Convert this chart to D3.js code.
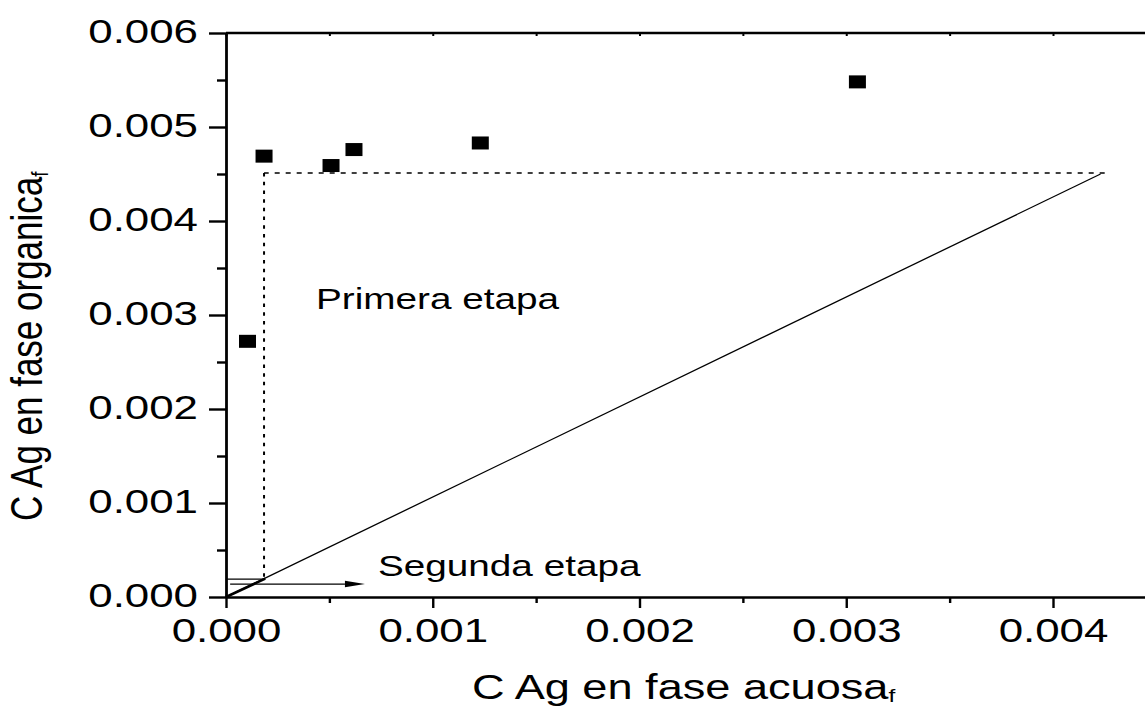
<!DOCTYPE html>
<html><head><meta charset="utf-8">
<script src="https://cdn.jsdelivr.net/npm/d3@7"></script>
<style>body{margin:0;background:#fff}svg{display:block}</style>
</head><body>
<svg id="c" width="1145" height="708"></svg>
<script>
// ---- data ----
const aqueous = [0.000104, 0.000184, 0.000508, 0.000619, 0.00123, 0.003054];
const organic = [0.00272, 0.00469, 0.00459, 0.00476, 0.00483, 0.00548];
const operatingX = [0, 0.00423];
const operatingY = [0, 0.0045];
const stage1X = [0.00425, 0.000184, 0.000184];
const stage1Y = [0.00451, 0.00451, 0.000195];
const stage2X = [0.000184, 0];
const stage2Y = [0.00019, 0.00019];
const stage2DiagX = [0, 0.00019];
const stage2DiagY = [0, 0.000195];
const arrowX = [0.00002, 0.000672];
const arrowY = [0.000138, 0.000138];
const xMajor = [0, 0.001, 0.002, 0.003, 0.004];
const xMinor = [0.0005, 0.0015, 0.0025, 0.0035, 0.0045];
const yMajor = [0, 0.001, 0.002, 0.003, 0.004, 0.005, 0.006];
const yMinor = [0.0005, 0.0015, 0.0025, 0.0035, 0.0045, 0.0055];
const xTitle = "C Ag en fase acuosa";
const yTitle = "C Ag en fase organica";
const subscript = "f";
const label1 = "Primera etapa";
const label2 = "Segunda etapa";

// ---- layout ----
const SX = 1.29;
const FONT = "'Liberation Sans', Arial, sans-serif";
const svg = d3.select("#c");
svg.append("rect").attr("width",1145).attr("height",708).attr("fill","#fff");

const x = d3.scaleLinear().domain([0, 0.0045]).range([226, 226 + 0.0045 * 206750]);
const y = d3.scaleLinear().domain([0, 0.006]).range([597, 33]);
const fmt = d3.format(".3f");
const zip = (a, b) => a.map((v, i) => [v, b[i]]);
const line = d3.line().x(d => x(d[0])).y(d => y(d[1]));

// top frame line with faint ticks
svg.append("line").attr("x1", 226).attr("x2", 1145).attr("y1", y(0.006)).attr("y2", y(0.006))
  .attr("stroke", "#000").attr("stroke-width", 2.6);
const topT = svg.append("g").attr("transform", `translate(0,${y(0.006)})`)
  .call(d3.axisTop(x).tickValues(xMajor.concat(xMinor)).tickSize(-3).tickFormat(""));
topT.select(".domain").remove();
topT.selectAll("line").attr("stroke", "#ccc").attr("stroke-width", 2);

// bottom axis
const xAx = svg.append("g").attr("transform", `translate(0,${y(0)})`)
  .call(d3.axisBottom(x).tickValues(xMajor).tickSize(11).tickSizeOuter(0).tickFormat(fmt));
xAx.select(".domain").attr("stroke-width", 2.6);
xAx.selectAll(".tick line").attr("stroke-width", 2.4);
xAx.selectAll("text").attr("y", 45).attr("dy", null)
  .attr("font-size", 34).attr("font-family", FONT).attr("fill", "#000")
  .attr("transform", `scale(${SX},1)`);
const xMin = svg.append("g").attr("transform", `translate(0,${y(0)})`)
  .call(d3.axisBottom(x).tickValues(xMinor).tickSize(6).tickFormat(""));
xMin.select(".domain").remove();
xMin.selectAll("line").attr("stroke-width", 2.4);

// left axis
const yAx = svg.append("g").attr("transform", `translate(${x(0)},0)`)
  .call(d3.axisLeft(y).tickValues(yMajor).tickSize(17).tickSizeOuter(0).tickFormat(fmt));
yAx.select(".domain").attr("stroke-width", 2.8);
yAx.selectAll(".tick line").attr("stroke-width", 2.4);
yAx.selectAll("text").attr("x", -28 / SX).attr("y", 9).attr("dy", null)
  .attr("font-size", 34).attr("font-family", FONT).attr("fill", "#000")
  .attr("transform", `scale(${SX},1)`);
const yMin = svg.append("g").attr("transform", `translate(${x(0)},0)`)
  .call(d3.axisLeft(y).tickValues(yMinor).tickSize(9).tickFormat(""));
yMin.select(".domain").remove();
yMin.selectAll("line").attr("stroke-width", 2.4);
svg.selectAll(".tick line, .domain").attr("stroke", "#000");

// lines
svg.append("path").attr("d", line(zip(operatingX, operatingY)))
  .attr("fill", "none").attr("stroke", "#000").attr("stroke-width", 1.3);
svg.append("path").attr("d", line(zip(stage1X.slice(0, 2), stage1Y.slice(0, 2))))
  .attr("fill", "none").attr("stroke", "#000").attr("stroke-width", 1.6).attr("stroke-dasharray", "5,6");
svg.append("path").attr("d", line(zip(stage1X.slice(1), stage1Y.slice(1))))
  .attr("fill", "none").attr("stroke", "#000").attr("stroke-width", 2).attr("stroke-dasharray", "3.5,5.2");
svg.append("path").attr("d", line(zip(stage2X, stage2Y)))
  .attr("fill", "none").attr("stroke", "#000").attr("stroke-width", 1.4);
svg.append("path").attr("d", line(zip(stage2DiagX, stage2DiagY)))
  .attr("fill", "none").attr("stroke", "#000").attr("stroke-width", 2.6);

// arrow
const a = zip(arrowX, arrowY);
const ax1 = x(a[1][0]), ay1 = y(a[1][1]);
svg.append("path").attr("d", line([a[0], [arrowX[1] - 20 / 206750, arrowY[1]]]))
  .attr("fill", "none").attr("stroke", "#000").attr("stroke-width", 1.2);
svg.append("path").attr("d", `M${ax1},${ay1} L${ax1 - 20},${ay1 - 3.2} L${ax1 - 20},${ay1 + 3.2} Z`)
  .attr("fill", "#000");

// markers
svg.append("g").selectAll("rect").data(zip(aqueous, organic)).join("rect")
  .attr("x", d => x(d[0]) - 8.5).attr("y", d => y(d[1]) - 6.5)
  .attr("width", 17).attr("height", 13).attr("fill", "#000");

// annotations
function stretchedText(tx, ty, str, size) {
  return svg.append("text").attr("transform", `translate(${tx},${ty}) scale(${SX},1)`)
    .attr("font-family", FONT).attr("font-size", size).attr("fill", "#000").text(str);
}
stretchedText(316, 309, label1, 30);
stretchedText(378, 576, label2, 30);

// x title
const xt = svg.append("text").attr("transform", `translate(472,699) scale(${SX},1)`)
  .attr("font-family", FONT).attr("font-size", 35).attr("fill", "#000");
xt.append("tspan").text(xTitle);
xt.append("tspan").attr("font-size", 19).attr("dy", 3).text(subscript);

// y title
const yt = svg.append("text").attr("transform", `translate(42,521) scale(${SX},1) rotate(-90)`)
  .attr("font-family", FONT).attr("font-size", 35).attr("fill", "#000");
yt.append("tspan").text(yTitle);
yt.append("tspan").attr("font-size", 19).attr("dy", 5).text(subscript);
</script>
</body></html>
